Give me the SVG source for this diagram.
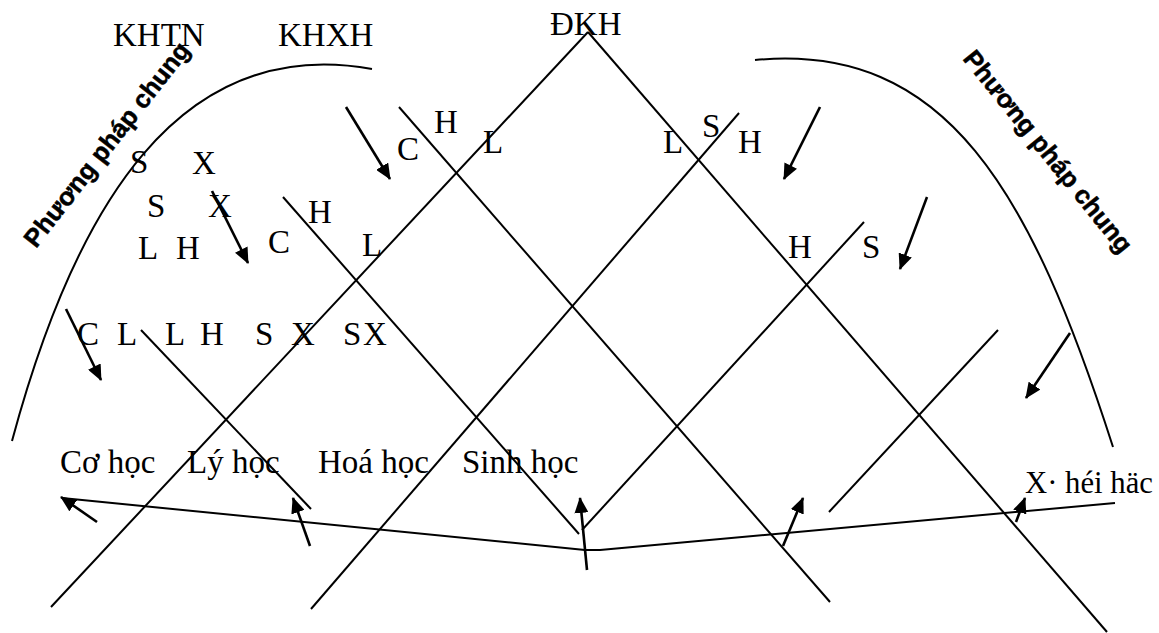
<svg xmlns="http://www.w3.org/2000/svg" width="1159" height="633" viewBox="0 0 1159 633">
<style>
.ln{stroke:#000;stroke-width:2;fill:none;stroke-linecap:butt}
.ar{stroke:#000;stroke-width:2.6;fill:none;marker-end:url(#ah)}
.t{font-family:"Liberation Serif","Times New Roman",serif;font-size:33px;fill:#000}
.pp{font-family:"Liberation Sans",Arial,sans-serif;font-size:25.5px;font-weight:bold;fill:#000;stroke:#000;stroke-width:0.5}
</style>
<defs>
<marker id="ah" viewBox="0 0 16 14" markerWidth="16" markerHeight="14" refX="15" refY="7" orient="auto" markerUnits="userSpaceOnUse">
<path d="M0,0 L16,7 L0,14 z" fill="#000"/>
</marker>
</defs>
<rect width="1159" height="633" fill="#fff"/>
<g id="arcs">
<path class="ln" d="M12,441 C75,207 179,34 372,69"/>
<path class="ln" d="M755,60 C947,42 1031,192 1113,447"/>
</g>
<g id="lattice">
<line class="ln" x1="588" y1="32" x2="51" y2="607"/>
<line class="ln" x1="588" y1="32" x2="1107" y2="632"/>
<line class="ln" x1="739" y1="113" x2="311" y2="609"/>
<line class="ln" x1="399" y1="107" x2="830" y2="602"/>
<line class="ln" x1="283" y1="197" x2="579" y2="534"/>
<line class="ln" x1="582" y1="530" x2="864" y2="222"/>
<line class="ln" x1="141" y1="330" x2="311" y2="509"/>
<line class="ln" x1="829" y1="512" x2="998" y2="330"/>
<polyline class="ln" points="62,498 585,550 600,550 1115,503"/>
</g>
<g id="connectors">
<line class="ar" x1="346" y1="107" x2="390" y2="179"/>
<line class="ar" x1="212" y1="191" x2="248" y2="263"/>
<line class="ar" x1="66" y1="309" x2="101" y2="380"/>
<line class="ar" x1="97" y1="522" x2="61" y2="497"/>
<line class="ar" x1="310" y1="546" x2="293" y2="498"/>
<line class="ar" x1="587" y1="570" x2="580" y2="498"/>
<line class="ar" x1="783" y1="546" x2="803" y2="498"/>
<line class="ar" x1="1016" y1="522" x2="1025" y2="498"/>
<line class="ar" x1="1070" y1="333" x2="1026" y2="398"/>
<line class="ar" x1="927" y1="197" x2="900" y2="269"/>
<line class="ar" x1="820" y1="107" x2="784" y2="179"/>
</g>
<g id="titles">
<text class="t" x="113" y="46">KHTN</text>
<text class="t" x="278" y="46">KHXH</text>
<text class="t" x="550" y="35">ĐKH</text>
</g>
<g id="methods">
<text class="pp" transform="translate(36,249) rotate(-52)">Phương pháp chung</text>
<text class="pp" transform="translate(962,59) rotate(51)">Phương pháp chung</text>
</g>
<g id="letters">
<text class="t" x="130" y="173">S</text>
<text class="t" x="192" y="174">X</text>
<text class="t" x="147" y="217">S</text>
<text class="t" x="208" y="217">X</text>
<text class="t" x="138" y="259">L</text>
<text class="t" x="176" y="259">H</text>
<text class="t" x="268" y="253">C</text>
<text class="t" x="308" y="223">H</text>
<text class="t" x="362" y="256">L</text>
<text class="t" x="397" y="160">C</text>
<text class="t" x="434" y="133">H</text>
<text class="t" x="483" y="153">L</text>
<text class="t" x="663" y="153">L</text>
<text class="t" x="702" y="137">S</text>
<text class="t" x="738" y="153">H</text>
<text class="t" x="788" y="258">H</text>
<text class="t" x="862" y="258">S</text>
<text class="t" x="77" y="345">C</text>
<text class="t" x="117" y="345">L</text>
<text class="t" x="165" y="345">L</text>
<text class="t" x="200" y="345">H</text>
<text class="t" x="255" y="345">S</text>
<text class="t" x="291" y="345">X</text>
<text class="t" x="343" y="345">S</text>
<text class="t" x="363" y="345">X</text>
</g>
<g id="fields">
<text class="t" x="60" y="473">Cơ học</text>
<text class="t" x="187" y="473">Lý học</text>
<text class="t" x="318" y="473">Hoá học</text>
<text class="t" x="462" y="473">Sinh học</text>
<text class="t" x="1025" y="493" style="font-size:31px" textLength="128" lengthAdjust="spacingAndGlyphs">X· héi häc</text>
</g>
</svg>
